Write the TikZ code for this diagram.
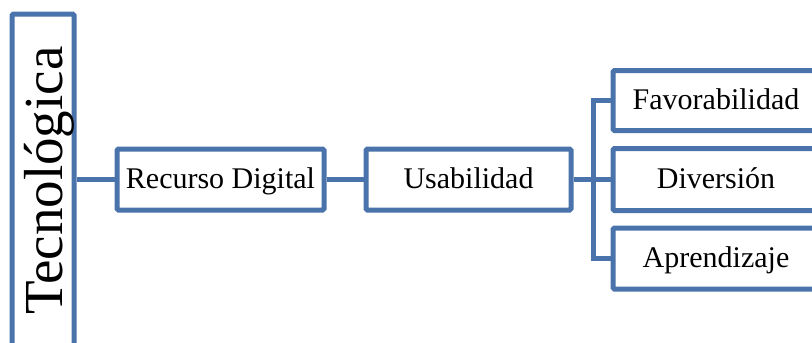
\documentclass[tikz,border=0pt]{standalone}
\usepackage{fontspec}
\setmainfont{Liberation Serif}
\definecolor{boxblue}{HTML}{4A73AB}
\begin{document}
\begin{tikzpicture}[x=1pt,y=-1pt,
  conn/.style={draw=boxblue,line width=5pt},
  itembox/.style={draw=boxblue,line width=5pt,fill=white,rounded corners=1.5pt,
    minimum width=206pt,minimum height=61pt,inner sep=0pt,
    text height=21pt,text depth=3pt,font=\fontsize{30}{36}\selectfont},
  tallbox/.style={draw=boxblue,line width=5pt,fill=white,rounded corners=1.5pt,
    minimum width=62pt,minimum height=366pt,inner sep=0pt}]
  \useasboundingbox (0,0) rectangle (812,343);
  \clip (0,0) rectangle (812,343);

  % left column
  \node[tallbox] (tec) at (43,197) {};
  \node[rotate=90,anchor=base,inner sep=0pt,font=\fontsize{55}{60}\selectfont]
    (teclabel) at (62,180.5) {Tecnológica};

  % chain of boxes
  \node[itembox,minimum width=207pt] (rec) at (220.5,179.5) {Recurso Digital};
  \node[itembox,minimum width=205pt] (usa) at (468.5,179.5) {Usabilidad};

  % branches
  \node[itembox,minimum height=60pt] (fav) at (716,100.5) {Favorabilidad};
  \node[itembox,minimum height=62pt] (div) at (716,179.5) {Diversión};
  \node[itembox] (apr) at (716,258.5) {Aprendizaje};

  \coordinate (fork) at (593,179.5);

  % connectors
  \draw[conn] (rec.west -| tec.east) -- (rec.west);
  \draw[conn] (rec.east) -- (usa.west);
  \draw[conn] (usa.east) -- (div.west);
  \draw[conn] (fav.west) -| (fork) |- (apr.west);
\end{tikzpicture}
\end{document}
